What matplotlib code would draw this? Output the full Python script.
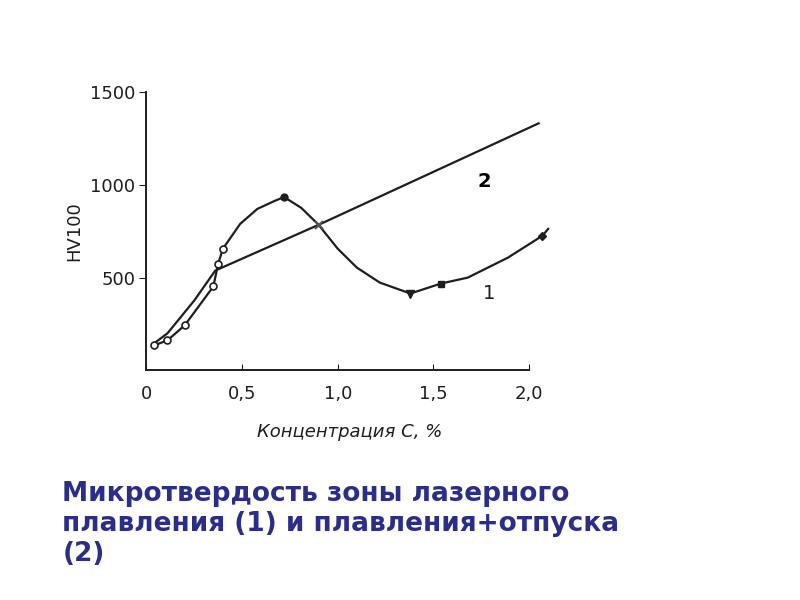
import numpy as np
import matplotlib.pyplot as plt

# curve 1: laser melting zone
c1_line_x = [0.04, 0.11, 0.20, 0.35, 0.375, 0.40, 0.49, 0.58, 0.67, 0.72, 0.81, 0.90, 1.00, 1.10, 1.22, 1.38, 1.54, 1.68, 1.89, 2.07, 2.10]
c1_line_y = [134, 161, 242, 452, 575, 656, 790, 871, 914, 935, 876, 785, 656, 554, 473, 414, 468, 500, 608, 726, 763]

# curve 2: melting + tempering
c2_x = [0.04, 0.11, 0.25, 0.36, 0.90, 2.05]
c2_y = [145, 199, 376, 538, 785, 1333]

# measured points
open_x = [0.04, 0.11, 0.20, 0.35, 0.375, 0.40]
open_y = [134, 161, 242, 452, 575, 656]
peak_x, peak_y = [0.72], [935]
cross_x, cross_y = [0.90], [785]
tri_x, tri_y = [1.38], [414]
sq_x, sq_y = [1.54], [468]
end_x, end_y = [2.07], [726]

xticks = [0, 0.5, 1.0, 1.5, 2.0]
xticklabels = ['0', '0,5', '1,0', '1,5', '2,0']
yticks = [500, 1000, 1500]

ink = '#1e1e1e'

fig = plt.figure(figsize=(8, 6), dpi=100)
ax = fig.add_axes([0.183, 0.383, 0.507, 0.463])

ax.plot(c1_line_x, c1_line_y, color=ink, lw=1.6)
ax.plot(c2_x, c2_y, color=ink, lw=1.6)
ax.plot(open_x, open_y, 'o', mfc='white', mec=ink, ms=5, mew=1.2)
ax.plot(peak_x, peak_y, 'o', color=ink, ms=5)
ax.plot(cross_x, cross_y, 'x', color='#555555', ms=6, mew=1.5)
ax.plot(tri_x, tri_y, 'v', color=ink, ms=6)
ax.plot(sq_x, sq_y, 's', color=ink, ms=5)
ax.plot(end_x, end_y, 'D', color=ink, ms=4)

ax.set_xlim(0, 2.12)
ax.set_ylim(0, 1500)
ax.spines['top'].set_visible(False)
ax.spines['right'].set_visible(False)
ax.spines['bottom'].set_bounds(0, 2.0)
for s in ['left', 'bottom']:
    ax.spines[s].set_linewidth(1.4)
    ax.spines[s].set_color(ink)

ax.set_xticks(xticks)
ax.set_xticklabels(xticklabels)
ax.set_yticks(yticks)
ax.tick_params(axis='x', direction='in', length=4, pad=11, labelsize=13, colors=ink)
ax.tick_params(axis='y', direction='out', length=5, pad=3, labelsize=13, colors=ink)

ax.set_ylabel('HV100', fontsize=13, color=ink, labelpad=5)
ax.set_xlabel('Концентрация С, %', fontsize=13, style='italic', color=ink, labelpad=14)

ax.text(1.73, 990, '2', fontsize=14, fontweight='bold', color='black')
ax.text(1.76, 385, '1', fontsize=14, color=ink)

fig.text(0.078, 0.198, 'Микротвердость зоны лазерного\nплавления (1) и плавления+отпуска\n(2)',
         fontsize=19, fontweight='bold', color='#2b2d8a', linespacing=1.2, va='top')

fig.savefig('out.png', dpi=100)
